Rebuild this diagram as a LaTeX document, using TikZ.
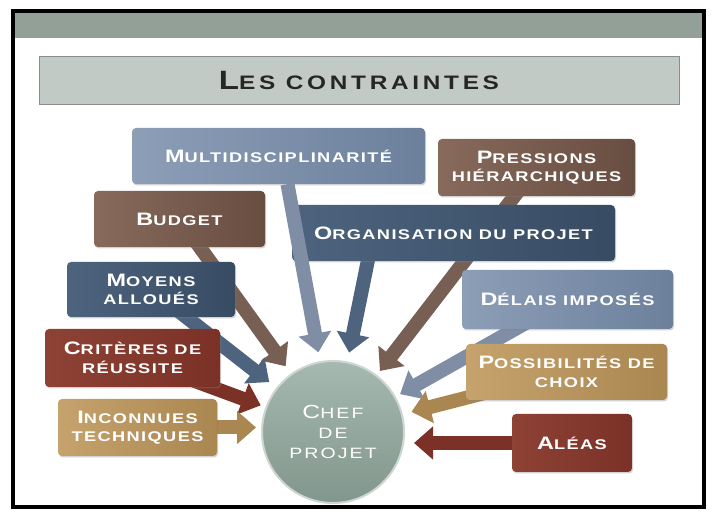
\documentclass[tikz,border=0pt]{standalone}
\usepackage{fontspec}
\usetikzlibrary{arrows.meta,shadows}
\newfontfamily\boxfont[LetterSpace=10,FakeStretch=1.3]{Liberation Sans}
\newfontfamily\cheffont[LetterSpace=14,FakeStretch=1.3]{Liberation Sans}
\newfontfamily\ttlfont[LetterSpace=19,FakeStretch=1.25]{Liberation Sans}
\newcommand\ini[2][18]{{\fontsize{#1}{#1}\selectfont #2}}
\pgfdeclarelayer{bg}
\pgfdeclarelayer{back}
\pgfsetlayers{bg,back,main}
\definecolor{bandc}{HTML}{93A097}
\definecolor{ttlc}{HTML}{C1CAC5}
\definecolor{steelA}{HTML}{8D9EB7}
\definecolor{steelB}{HTML}{6C809C}
\definecolor{brownA}{HTML}{876A5B}
\definecolor{brownB}{HTML}{684D41}
\definecolor{navyA}{HTML}{4E647E}
\definecolor{navyB}{HTML}{374B63}
\definecolor{rustA}{HTML}{8E4236}
\definecolor{rustB}{HTML}{7B3126}
\definecolor{tanA}{HTML}{C6A36D}
\definecolor{tanB}{HTML}{AA8650}
\definecolor{chefc}{HTML}{90A79C}

\begin{document}
\begin{tikzpicture}[x=1pt, y=-1pt,
    box/.style={rounded corners=4pt, align=center, inner sep=0pt, text=white,
        minimum height=56pt, font=\boxfont\bfseries\fontsize{14}{18.5}\selectfont,
        drop shadow={opacity=.35, shadow xshift=1pt, shadow yshift=-1.5pt}},
    steel/.style={box, left color=steelA, right color=steelB},
    brown/.style={box, left color=brownA, right color=brownB},
    navy/.style={box, left color=navyA, right color=navyB},
    rust/.style={box, left color=rustA, right color=rustB},
    tan/.style={box, left color=tanA, right color=tanB},
    conn/.style={line width=14pt, -{Triangle[length=19pt, width=32pt]}, shorten >=9pt},
    near/.style={shorten >=5pt}]
    \useasboundingbox (0,0) rectangle (718,518);
    \begin{pgfonlayer}{bg}
        \draw[line width=3.5pt, fill=white, drop shadow={opacity=.3, shadow xshift=2pt, shadow yshift=-2pt}] (13,11) rectangle (704,507);
        \fill[bandc] (14.75,12.75) rectangle (702.25,38);
    \end{pgfonlayer}
    \node[draw=black!45, line width=.8pt, fill=ttlc, minimum width=640pt, minimum height=48pt,
        text=black!85, font=\ttlfont\bfseries\fontsize{19.5}{22}\selectfont] (ttl) at (359,80) {\ini[26.5]{L}ES CONTRAINTES};

    \node[circle, minimum size=142pt, inner sep=0pt, top color=chefc!80!white, bottom color=chefc!90!black,
        draw=chefc!45!white, line width=2pt, text=white, align=center,
        font=\cheffont\fontsize{15}{20}\selectfont] (chef) at (333,432) {\ini[19]{C}HEF\\DE\\PROJET};

    \node[steel, minimum width=293pt] (multi) at (278.5,156) {\ini{M}ULTIDISCIPLINARITÉ};
    \node[brown, minimum width=197pt, minimum height=57pt] (press) at (536.5,167.5) {\ini{P}RESSIONS\\HIÉRARCHIQUES};
    \node[brown, minimum width=171pt] (budget) at (179.5,219) {\ini{B}UDGET};
    \node[navy, minimum width=323pt] (orga) at (453.5,233) {\ini{O}RGANISATION DU PROJET};
    \node[navy, minimum width=168pt, minimum height=55pt] (moyens) at (151,289.5) {\ini{M}OYENS\\ALLOUÉS};
    \node[steel, minimum width=211pt, minimum height=59pt] (delais) at (567.5,299.5) {\ini{D}ÉLAIS IMPOSÉS};
    \node[rust, minimum width=175pt, minimum height=58pt] (criteres) at (132.5,358) {\ini{C}RITÈRES DE\\RÉUSSITE};
    \node[tan, minimum width=201pt] (possib) at (566.5,372) {\ini{P}OSSIBILITÉS DE\\CHOIX};
    \node[tan, minimum width=159pt, minimum height=57pt] (inconnues) at (137.5,427.5) {\ini{I}NCONNUES\\TECHNIQUES};
    \node[rust, minimum width=120pt, minimum height=58pt] (aleas) at (572,443) {\ini{A}LÉAS};

    \begin{pgfonlayer}{back}
        \draw[conn, near, brownB!90] (press.center) -- (chef);
        \draw[conn, brownB!90] (budget.center) -- (chef);
        \draw[conn, navyA] ([xshift=-80pt]orga.center) -- (chef);
        \draw[conn, navyA] (moyens.center) -- (chef);
        \draw[conn, near, rustB] (criteres.center) -- (chef);
        \draw[conn, near, tanB] (inconnues.center) -- (inconnues -| chef.west);
        \draw[conn, near, steelA!90!black] (delais.center) -- (chef);
        \draw[conn, tanB] (possib.center) -- (chef);
        \draw[conn, rustB] (aleas.center) -- (aleas -| chef.east);
    \end{pgfonlayer}
    \draw[conn, steelA!90!black] ([xshift=9pt]multi.south) -- (chef);
\end{tikzpicture}
\end{document}
